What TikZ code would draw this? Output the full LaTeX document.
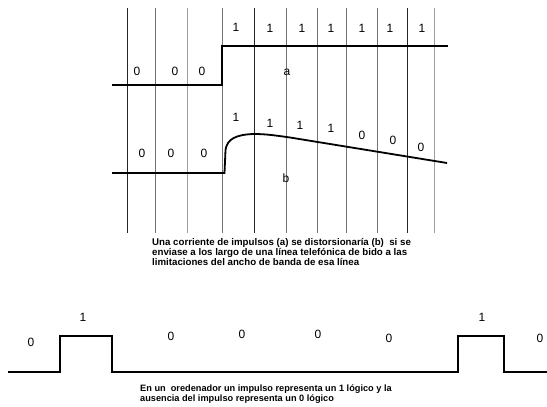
\documentclass[tikz,border=0pt]{standalone}
\usepackage{fontspec}
\setmainfont{Liberation Sans}
\begin{document}
\begin{tikzpicture}[x=1pt,y=-1pt,
  sig/.style={line width=1.8pt, line join=miter},
  gridk/.style={line width=0.9pt, black!85},
  gridg/.style={line width=0.9pt, black!55},
  gridl/.style={line width=0.9pt, black!38},
  digit/.style={font=\fontsize{12}{14}\selectfont, inner sep=0pt},
  capt/.style={font=\fontsize{9.2}{10.2}\selectfont\bfseries, align=left, anchor=north west, inner sep=0pt}]
\useasboundingbox (0,0) rectangle (547,407);
% vertical time-slot lines
\foreach \x/\s in {127/gridk,155/gridg,187/gridl,222/gridg,254/gridk,286/gridg,317/gridg,346/gridg,377/gridg,407/gridk,434/gridl}
  \draw[\s] (\x,8) -- (\x,233);
% signal a
\draw[sig] (112,85) -- (222,85) -- (222,46) -- (448,46);
% signal b
\draw[sig] (112,173) -- (224.5,173) -- (225.5,150) .. controls (227,139) and (236,134.5) .. (254,134)
  .. controls (266,134) and (276,135.5) .. (290,137.5) -- (447,163);
% labels a
\foreach \x/\y/\t [count=\i] in {137/71/0,175/71/0,202/71/0,236/27/1,270/28/1,302/28/1,331/28/1,362/28/1,390/28/1,422/28/1}
  \node[digit] (a\i) at (\x,\y) {\t};
\node[digit] (la) at (287,72) {a};
% labels b
\foreach \x/\y/\t [count=\i] in {142/153/0,171/153/0,204/153/0,236/117/1,270/123/1,300/125/1,331/128/1,362/135/0,393/140/0,421/147/0}
  \node[digit] (b\i) at (\x,\y) {\t};
\node[digit] (lb) at (286,178) {b};
\node[capt, font=\fontsize{9.7}{10.1}\selectfont\bfseries] (cap1) at (152,238) {Una corriente de impulsos (a) se distorsionaría (b)\ \ si se\\enviase a los largo de una línea telefónica de bido a las\\limitaciones del ancho de banda de esa línea};
% bottom pulse train
\draw[sig] (8,372) -- (60,372) -- (60,336) -- (112,336) -- (112,372) -- (458,372) -- (458,336) -- (504,336) -- (504,372) -- (547,372);
\foreach \x/\y/\t [count=\i] in {31/342/0,83/317/1,171/336/0,242/334/0,318/334/0,389/338/0,482/317/1,540/338/0}
  \node[digit] (c\i) at (\x,\y) {\t};
\node[capt] (cap2) at (140,384.5) {En un \ oredenador un impulso representa un 1 lógico y la\\ausencia del impulso representa un 0 lógico};
\end{tikzpicture}
\end{document}
